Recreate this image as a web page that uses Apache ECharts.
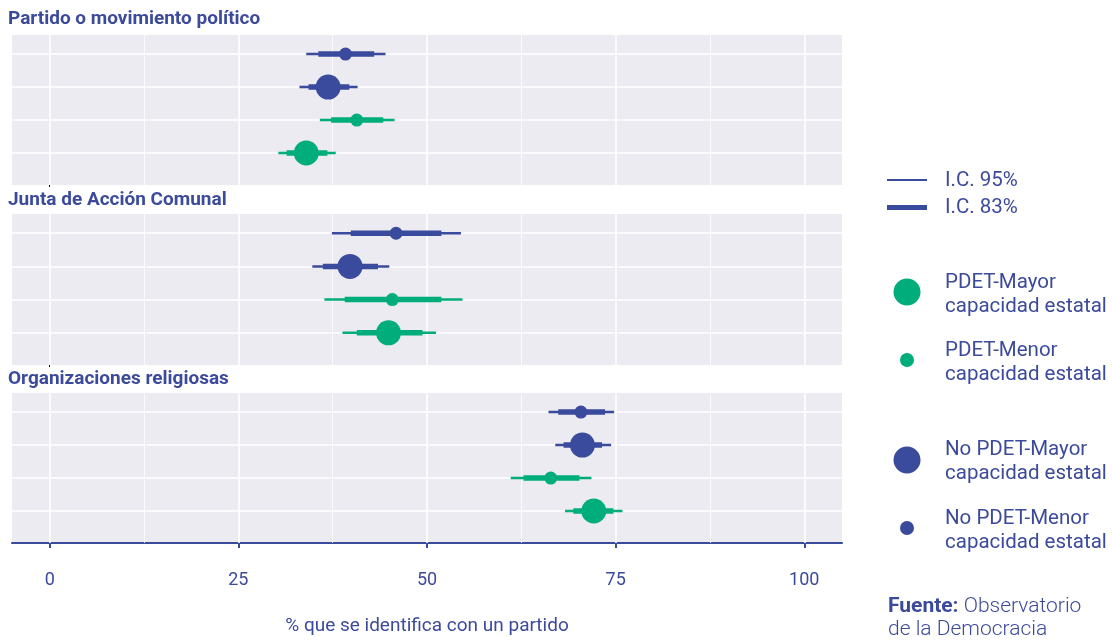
<!DOCTYPE html>
<html>
<head>
<meta charset="utf-8">
<script src="https://cdn.jsdelivr.net/npm/echarts@6/dist/echarts.min.js"></script>
<style>
html,body{margin:0;padding:0;background:#fff;}
#chart{width:1114px;height:640px;}
</style>
</head>
<body>
<div id="chart"></div>
<script>
// ---- Data ----
const groups = ['No PDET-Menor capacidad estatal', 'No PDET-Mayor capacidad estatal', 'PDET-Menor capacidad estatal', 'PDET-Mayor capacidad estatal'];
const panels = ['Partido o movimiento político', 'Junta de Acción Comunal', 'Organizaciones religiosas'];
const xTicks = [0, 25, 50, 75, 100];

const partidoEst  = [39.2, 36.9, 40.7, 34.0];
const partidoLo95 = [34.0, 33.1, 35.8, 30.3];
const partidoHi95 = [44.5, 40.8, 45.7, 37.9];
const partidoLo83 = [35.6, 34.3, 37.3, 31.4];
const partidoHi83 = [43.0, 39.7, 44.2, 36.8];

const juntaEst  = [45.9, 39.8, 45.4, 44.9];
const juntaLo95 = [37.4, 34.8, 36.4, 38.8];
const juntaHi95 = [54.5, 45.0, 54.7, 51.2];
const juntaLo83 = [39.9, 36.2, 39.1, 40.7];
const juntaHi83 = [51.9, 43.5, 51.9, 49.4];

const religEst  = [70.4, 70.6, 66.4, 72.1];
const religLo95 = [66.1, 67.0, 61.1, 68.3];
const religHi95 = [74.8, 74.4, 71.8, 75.9];
const religLo83 = [67.4, 68.1, 62.8, 69.4];
const religHi83 = [73.6, 73.2, 70.2, 74.7];

// ---- Styles ----
const BLUE = '#3a4a9c';
const GREEN = '#00ad7b';
const TXT = '#3c4a9b';
const BG = '#ebebf1';
const FONT = 'Roboto, "Noto Sans", sans-serif';

const panelData = [
  [partidoEst, partidoLo95, partidoHi95, partidoLo83, partidoHi83],
  [juntaEst, juntaLo95, juntaHi95, juntaLo83, juntaHi83],
  [religEst, religLo95, religHi95, religLo83, religHi83]
];

const gridBoxes = [
  {top: 35, height: 150},
  {top: 214, height: 151},
  {top: 393, height: 150}
];

const grids = gridBoxes.map(b => ({
  left: 12, width: 830, top: b.top, height: b.height,
  show: true, backgroundColor: BG, borderWidth: 0,
  containLabel: false, outerBoundsMode: 'none'
}));

const xAxes = gridBoxes.map((b, i) => {
  const last = i === 2;
  return {
    type: 'value', gridIndex: i, min: -5, max: 105,
    splitLine: {show: false},
    axisLine: {show: last, onZero: false, lineStyle: {color: BLUE, width: 2}},
    axisTick: last
      ? {show: true, customValues: xTicks, length: 5, lineStyle: {color: BLUE, width: 2}}
      : {show: true, customValues: [0], length: 2, lineStyle: {color: '#000', width: 1}},
    axisLabel: last
      ? {show: true, customValues: xTicks, color: TXT, fontSize: 18, fontFamily: FONT, margin: 28}
      : {show: false},
    name: last ? '% que se identifica con un partido' : '',
    nameLocation: 'middle', nameGap: 74,
    nameTextStyle: {color: TXT, fontSize: 19, fontFamily: FONT}
  };
});

const yAxes = gridBoxes.map((b, i) => ({
  type: 'value', gridIndex: i, min: 0.42, max: 4.97, inverse: true,
  show: false, splitLine: {show: false}
}));

const vGrid = [];
for (let v = 0; v <= 100; v += 12.5) {
  vGrid.push({xAxis: v, lineStyle: {color: '#ffffff', width: (v % 25 === 0) ? 1.6 : 0.8, type: 'solid'}});
}
const hGrid = groups.map((g, k) => ({yAxis: k + 1, lineStyle: {color: '#ffffff', width: 1.6, type: 'solid'}}));

const series = [];
panelData.forEach((pd, i) => {
  const [est, lo95, hi95, lo83, hi83] = pd;
  series.push({
    type: 'line', xAxisIndex: i, yAxisIndex: i, data: [], silent: true, z: 1,
    markLine: {
      silent: true, symbol: 'none', animation: false,
      label: {show: false},
      data: vGrid.concat(hGrid)
    }
  });
  series.push({
    type: 'custom', xAxisIndex: i, yAxisIndex: i, z: 5, animation: false,
    data: groups.map((g, k) => [k + 1, lo95[k], hi95[k], lo83[k], hi83[k], est[k]]),
    encode: {x: [1, 2, 3, 4, 5], y: 0},
    renderItem: function (params, api) {
      const k = params.dataIndex;
      const y = api.value(0);
      const color = k < 2 ? BLUE : GREEN;
      const r = (k % 2 === 0) ? 6.5 : 12.5;
      const a95 = api.coord([api.value(1), y]);
      const b95 = api.coord([api.value(2), y]);
      const a83 = api.coord([api.value(3), y]);
      const b83 = api.coord([api.value(4), y]);
      const c = api.coord([api.value(5), y]);
      return {
        type: 'group',
        children: [
          {type: 'line', shape: {x1: a95[0], y1: a95[1], x2: b95[0], y2: b95[1]}, style: {stroke: color, lineWidth: 2.5}},
          {type: 'line', shape: {x1: a83[0], y1: a83[1], x2: b83[0], y2: b83[1]}, style: {stroke: color, lineWidth: 5.5}},
          {type: 'circle', shape: {cx: c[0], cy: c[1], r: r}, style: {fill: color}}
        ]
      };
    }
  });
});

const titles = panels.map((p, i) => ({
  text: p, left: 3, top: [5, 186, 365][i],
  textStyle: {color: TXT, fontSize: 19, fontWeight: 'bold', fontFamily: FONT}
}));

const legTxt = (x, y, t) => ({
  type: 'text', left: x, top: y,
  style: {text: t, fill: TXT, font: '20.5px ' + FONT, lineHeight: 24}
});

const graphic = [
  {type: 'line', shape: {x1: 887, y1: 180, x2: 927, y2: 180}, style: {stroke: BLUE, lineWidth: 2}},
  {type: 'line', shape: {x1: 887, y1: 207.5, x2: 927, y2: 207.5}, style: {stroke: BLUE, lineWidth: 5}},
  legTxt(945, 168.5, 'I.C. 95%'),
  legTxt(945, 195.5, 'I.C. 83%'),
  {type: 'circle', shape: {cx: 907, cy: 292, r: 13.5}, style: {fill: GREEN}},
  legTxt(945, 271, 'PDET-Mayor\ncapacidad estatal'),
  {type: 'circle', shape: {cx: 907, cy: 360, r: 7}, style: {fill: GREEN}},
  legTxt(945, 338.5, 'PDET-Menor\ncapacidad estatal'),
  {type: 'circle', shape: {cx: 907, cy: 460, r: 13.5}, style: {fill: BLUE}},
  legTxt(945, 438, 'No PDET-Mayor\ncapacidad estatal'),
  {type: 'circle', shape: {cx: 907, cy: 528, r: 7}, style: {fill: BLUE}},
  legTxt(945, 506.5, 'No PDET-Menor\ncapacidad estatal'),
  {
    type: 'text', left: 888, top: 594.5,
    style: {
      text: '{b|Fuente:} Observatorio\nde la Democracia',
      fill: TXT, font: '300 21px ' + FONT, lineHeight: 23.5,
      rich: {b: {fontWeight: 'bold', fill: TXT, fontSize: 21, fontFamily: FONT, lineHeight: 23.5}}
    }
  }
];

const chart = echarts.init(document.getElementById('chart'), null, {renderer: 'canvas'});
chart.setOption({
  animation: false,
  backgroundColor: '#ffffff',
  title: titles,
  grid: grids,
  xAxis: xAxes,
  yAxis: yAxes,
  series: series,
  graphic: graphic
});
</script>
</body>
</html>
